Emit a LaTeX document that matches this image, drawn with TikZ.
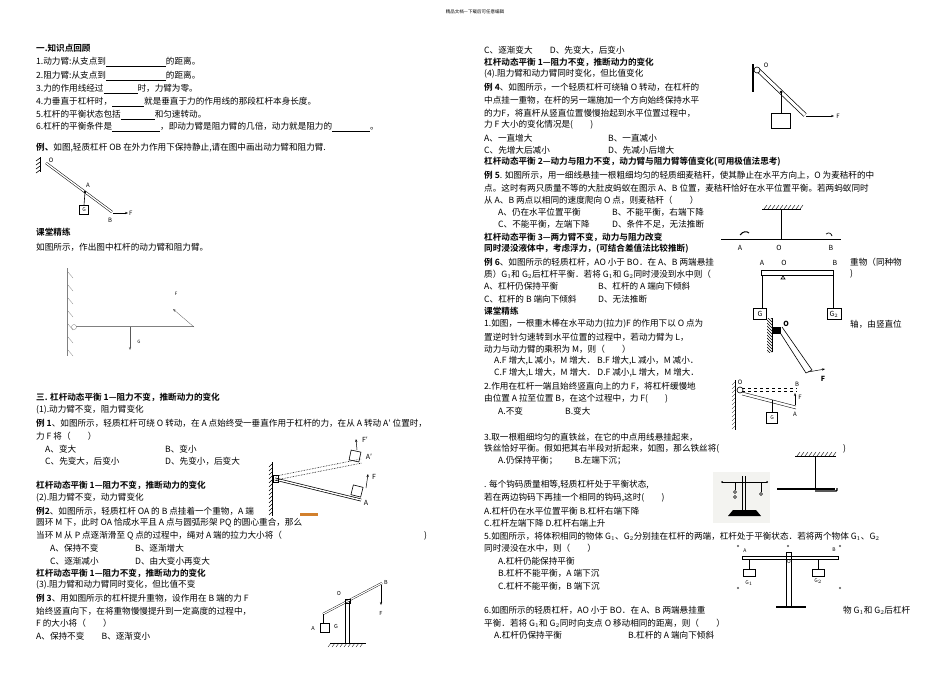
\documentclass[tikz,border=0pt]{standalone}
\usepackage{fontspec}
\setmainfont{Noto Sans CJK SC}[BoldFont={Noto Sans CJK SC Bold}]
\usetikzlibrary{patterns,arrows.meta}
\newcommand\blank[1]{\rule[-1.5pt]{#1pt}{0.4pt}}
\begin{document}
\begin{tikzpicture}[x=1pt,y=-1pt,
 t/.style={anchor=west,inner sep=0pt,font=\fontsize{8.6}{10}\selectfont},
 hd/.style={t,font=\fontsize{8.6}{10}\selectfont\bfseries},
 lb/.style={inner sep=0pt,font=\fontsize{6}{7}\selectfont\itshape},
 rod/.style={double,double distance=1.4pt,line width=0.5pt},
 fig/.style={line width=0.6pt},
 arr/.style={-{Stealth[length=3pt]},line width=0.5pt},
 hatchw/.style={pattern=north east lines}]
\useasboundingbox (0,0) rectangle (950,672);
\node[inner sep=0,font=\fontsize{4.5}{5}\selectfont] (hdr) at (475,12) {精品文档---下载后可任意编辑};
% ---------- left column ----------
\node[hd] (l1) at (36,48) {一.知识点回顾};
\node[t] (l2) at (36,62) {1.动力臂:从支点到\blank{60}的距离。};
\node[t] (l3) at (36,76) {2.阻力臂:从支点到\blank{60}的距离。};
\node[t] (l4) at (36,89) {3.力的作用线经过\blank{34}时，力臂为零。};
\node[t] (l5) at (36,102) {4.力垂直于杠杆时，\blank{32}就是垂直于力的作用线的那段杠杆本身长度。};
\node[t] (l6) at (36,115) {5.杠杆的平衡状态包括\blank{34}和匀速转动。};
\node[t] (l7) at (36,127) {6.杠杆的平衡条件是\blank{48}，即动力臂是阻力臂的几倍，动力就是阻力的\blank{38}。};
\node[t] (l8) at (36,148) {\textbf{例、}如图,轻质杠杆 \textit{OB} 在外力作用下保持静止,请在图中画出动力臂和阻力臂.};
% fig OB
\draw[fig] (40,157)--(40,172);
\foreach \yy in {158,162,166,170} \draw[fig] (40,\yy)--(36,\yy+3);
\draw[rod] (46,163)--(112,212);
\coordinate (fA) at (85,192);
\fill (fA) circle (1.3pt);
\node[draw,minimum size=9pt,inner sep=0,font=\fontsize{5}{6}\selectfont\itshape] (fG) at (84,210) {G};
\draw[fig] (fA)--(fG.north);
\coordinate (fB) at (113,213);
\coordinate (fF) at (128,213);
\draw[arr] (fB)--(fF);
\node[lb,anchor=west] (fFl) at (129,213) {F};
\node[lb] (fAl) at (88,185) {A};
\node[lb] (fBl) at (110,220) {B};
\node[lb] (fOl) at (51,160) {O};
\node[hd] (l9) at (36,232) {课堂精练};
\node[t] (l10) at (36,247) {如图所示，作出图中杠杆的动力臂和阻力臂。};
% fig wall
\draw[line width=0.3pt,gray] (67,268)--(67,356);
\foreach \yy in {272,285,298,311,324,337,350} \draw[line width=0.3pt,gray] (68,\yy)--(73,\yy+6);
\draw[line width=0.3pt,gray,double,double distance=1pt] (76,327)--(194,327);
\draw[line width=0.3pt,gray] (74,327) circle (2.5pt);
\coordinate (wG1) at (130,327); \coordinate (wG2) at (130,350);
\draw[arr,gray!70!black] (wG1)--(wG2);
\node[lb,font=\fontsize{4.5}{5}\selectfont] (wGl) at (139,342) {G};
\coordinate (wF1) at (194,327); \coordinate (wF2) at (173,309);
\draw[arr,gray!70!black,line width=0.3pt] (wF1)--(wF2);
\node[lb,font=\fontsize{4.5}{5}\selectfont] (wFl) at (176,294) {F};
% section 3
\node[hd] (l11) at (36,397) {三. 杠杆动态平衡 1---阻力不变，推断动力的变化};
\node[t] (l12) at (36,410) {(1).动力臂不变，阻力臂变化};
\node[t] (l13) at (36,423) {\textbf{例 1}、如图所示，轻质杠杆可绕 O 转动，在 A 点始终受一垂直作用于杠杆的力，在从 A 转动 A′ 位置时，};
\node[t] (l14) at (36,436) {力 F 将（　　）};
\node[t] (l15) at (45,449) {A、变大};
\node[t] (l16) at (165,449) {B、变小};
\node[t] (l17) at (45,461) {C、先变大，后变小};
\node[t] (l18) at (165,461) {D、先变小，后变大};
% fig ex1
\draw[fig] (272,462)--(272,516);
\foreach \yy in {464,468,...,514} \draw[line width=0.4pt] (272,\yy)--(269,\yy+3);
\draw[rod,line width=0.7pt] (275,479)--(361,500);
\draw[fig] (273,475) rectangle (278,482);
\draw[densely dotted,fig] (276,476)--(361,459);
\draw[densely dotted,fig] (276,480)--(362,463);
\draw[fig,rotate around={-14:(357,491)}] (352,486) rectangle (362,496);
\draw[fig,rotate around={-12:(355,456)}] (350,451) rectangle (360,461);
\coordinate (e1F1) at (366,488); \coordinate (e1F2) at (368,474);
\draw[arr] (e1F1)--(e1F2);
\coordinate (e1G1) at (357,450); \coordinate (e1G2) at (356,439);
\draw[arr] (e1G1)--(e1G2);
\node[lb,font=\fontsize{7}{8}\selectfont] (e1Fl) at (374,477) {F};
\node[lb,font=\fontsize{7}{8}\selectfont] (e1Fpl) at (365,440) {F′};
\node[inner sep=0,font=\fontsize{7}{8}\selectfont] (e1A) at (366,503) {A};
\node[inner sep=0,font=\fontsize{7}{8}\selectfont] (e1Ap) at (369,457) {A′};
\fill[brown!70!orange] (300,513) rectangle (318,516);
\node[hd] (l19) at (36,485) {杠杆动态平衡 1---阻力不变，推断动力的变化};
\node[t] (l20) at (36,498) {(2).阻力臂不变，动力臂变化};
\node[t] (l21) at (36,511) {\textbf{例2}、如图所示，轻质杠杆 OA 的 B 点挂着一个重物，A 端};
\node[t] (l22) at (36,523) {圆环 M 下，此时 OA 恰成水平且 A 点与圆弧形架 PQ 的圆心重合，那么};
\node[t] (l23) at (36,536) {当环 M 从 P 点逐渐滑至 Q 点的过程中，绳对 A 端的拉力大小将（};
\node[t] (l23b) at (424,536) {)};
\node[t] (l24) at (50,548) {A、保持不变};
\node[t] (l25) at (135,548) {B、逐渐增大};
\node[t] (l26) at (50,561) {C、逐渐减小};
\node[t] (l27) at (135,561) {D、由大变小再变大};
\node[hd] (l28) at (36,573) {杠杆动态平衡 1---阻力不变，推断动力的变化};
\node[t] (l29) at (36,585) {(3).阻力臂和动力臂同时变化，但比值不变};
\node[t] (l30) at (36,598) {\textbf{例 3}、用如图所示的杠杆提升重物，设作用在 B 端的力 F};
\node[t] (l31) at (36,611) {始终竖直向下，在将重物慢慢提升到一定高度的过程中，};
\node[t] (l32) at (36,623) {F 的大小将（　　）};
\node[t] (l33) at (36,636) {A、保持不变　　B、逐渐变小};
% fig ex3
\draw[fig] (330,643)--(366,643);
\foreach \xx in {331,335,...,363} \draw[line width=0.3pt] (\xx,643)--(\xx-3,647);
\draw[fig] (345,601)--(345,643); \draw[fig] (349,601)--(349,643);
\draw[line width=0.4pt,double,double distance=1.2pt] (323,614)--(382,583);
\draw[fig] (345,599) rectangle (350,603);
\draw[fig] (323,614)--(323,623);
\node[draw,minimum size=9pt,inner sep=0] (e3G) at (325,628) {};
\coordinate (e3B) at (381,585); \coordinate (e3F) at (381,605);
\draw[arr] (e3B)--(e3F);
\node[inner sep=0,font=\fontsize{5.5}{6}\selectfont] at (339,593) {O};
\node[inner sep=0,font=\fontsize{5.5}{6}\selectfont] at (386,582) {B};
\node[inner sep=0,font=\fontsize{5.5}{6}\selectfont] at (381,613) {F};
\node[inner sep=0,font=\fontsize{5.5}{6}\selectfont] at (313,628) {A};
\node[inner sep=0,font=\fontsize{5.5}{6}\selectfont] at (336,626) {G};
% ---------- right column ----------
\node[t] (r1) at (484,50) {C、逐渐变大　　D、先变大，后变小};
\node[hd] (r2) at (484,62) {杠杆动态平衡 1---阻力不变，推断动力的变化};
\node[t] (r3) at (484,74) {(4).阻力臂和动力臂同时变化，但比值变化};
\node[t] (r4) at (484,87) {\textbf{例 4}、如图所示，一个轻质杠杆可绕轴 O 转动，在杠杆的};
\node[t] (r5) at (484,100) {中点挂一重物，在杆的另一端施加一个方向始终保持水平};
\node[t] (r6) at (484,113) {的力F，将直杆从竖直位置慢慢抬起到水平位置过程中，};
\node[t] (r7) at (484,125) {力 F 大小的变化情况是(　　)};
\node[t] (r8) at (484,138) {A、一直增大};
\node[t] (r9) at (608,138) {B、一直减小};
\node[t] (r10) at (484,150) {C、先增大后减小};
\node[t] (r11) at (608,150) {D、先减小后增大};
% fig ex4
\draw[line width=1.2pt] (753,64)--(753,92);
\draw[rod,line width=0.7pt,double distance=3pt] (758,70)--(805,115);
\draw[fig,fill=white] (757,70) circle (3pt);
\fill (781,92) circle (1.5pt);
\draw[fig] (781,92)--(781,113);
\node[draw,fig,minimum width=19pt,minimum height=15pt,inner sep=0] (e4G) at (781,121) {};
\coordinate (e4B) at (806,116); \coordinate (e4F) at (834,116);
\draw[arr] (e4B)--(e4F);
\node[lb] at (838,116) {F};
\node[lb] at (766,65) {O};
\node[hd] (r12) at (484,162) {杠杆动态平衡 2---动力与阻力不变，动力臂与阻力臂等值变化(可用极值法思考)};
\node[t] (r13) at (484,175) {\textbf{例 5}. 如图所示，用一细线悬挂一根粗细均匀的轻质细麦秸秆，使其静止在水平方向上，O 为麦秸秆的中};
\node[t] (r14) at (484,188) {点。这时有两只质量不等的大肚皮蚂蚁在图示 A、B 位置，麦秸秆恰好在水平位置平衡。若两蚂蚁同时};
\node[t] (r15) at (484,200) {从 A、B 两点以相同的速度爬向 O 点，则麦秸秆（　　）};
\node[t] (r16) at (498,212) {A、仍在水平位置平衡};
\node[t] (r17) at (612,212) {B、不能平衡，右端下降};
\node[t] (r18) at (498,224) {C、不能平衡，左端下降};
\node[t] (r19) at (612,224) {D、条件不足，无法推断};
% fig ex5
\draw[fig] (762,209)--(801,209);
\foreach \xx in {764,768,...,800} \draw[line width=0.4pt] (\xx,209)--(\xx+3,205);
\draw[fig] (781,209)--(781,240);
\draw[line width=0.4pt,double,double distance=1pt] (721,240)--(841,240);
\draw[line width=1pt] (740,235) .. controls (743,231) and (747,231) .. (749,233);
\draw[line width=0.7pt] (826,234) .. controls (829,232) and (831,233) .. (832,236);
\node[lb,font=\fontsize{7}{8}\selectfont\itshape] at (740,248) {A};
\node[lb,font=\fontsize{7}{8}\selectfont\itshape] at (779,248) {O};
\node[lb,font=\fontsize{7}{8}\selectfont\itshape] at (831,248) {B};
\node[hd] (r20) at (484,237) {杠杆动态平衡 3---两力臂不变，动力与阻力改变};
\node[hd] (r21) at (484,249) {同时浸没液体中，考虑浮力，(可结合差值法比较推断)};
\node[t] (r22) at (484,262) {\textbf{例 6}、如图所示的轻质杠杆，AO 小于 BO．在 A、B 两端悬挂};
\node[t] (r22b) at (850,262) {重物（同种物};
\node[t] (r23) at (484,274) {质）G$_1$和 G$_2$后杠杆平衡．若将 G$_1$和 G$_2$同时浸没到水中则（};
\node[t] (r23b) at (850,274) {)};
\node[t] (r24) at (484,286) {A、杠杆仍保持平衡};
\node[t] (r25) at (598,286) {B、杠杆的 A 端向下倾斜};
\node[t] (r26) at (484,299) {C、杠杆的 B 端向下倾斜};
\node[t] (r27) at (598,299) {D、无法推断};
% fig ex6
\draw[fig] (761,270) rectangle (833,275);
\draw[fig] (783,276)--(781,279)--(785,279)--cycle;
\draw[fig] (762,275)--(762,308); \draw[fig] (833,275)--(833,308);
\node[draw,fig,minimum width=13pt,minimum height=11pt,inner sep=0,font=\fontsize{7}{8}\selectfont\itshape] (g1) at (760,314) {G};
\node[draw,fig,minimum width=14pt,minimum height=11pt,inner sep=0,font=\fontsize{7}{8}\selectfont\itshape] (g2) at (834,314) {G$_2$};
\node[lb,font=\fontsize{7}{8}\selectfont\itshape] at (762,263) {A};
\node[lb,font=\fontsize{7}{8}\selectfont\itshape] at (784,263) {O};
\node[lb,font=\fontsize{7}{8}\selectfont\itshape] at (835,263) {B};
\node[hd] (r28) at (484,311) {课堂精练};
\node[t] (r29) at (484,324) {1.如图，一根重木棒在水平动力(拉力)F 的作用下以 O 点为};
\node[t] (r29b) at (850,324) {轴，由竖直位};
\node[t] (r30) at (484,337) {置逆时针匀速转到水平位置的过程中，若动力臂为 L，};
\node[t] (r31) at (484,349) {动力与动力臂的乘积为 M，则（　　）};
\node[t] (r32) at (494,361) {A.F 增大,L 减小，M 增大． B.F 增大,L 减小，M 减小．};
\node[t] (r33) at (494,373) {C.F 增大,L 增大，M 增大． D.F 减小,L 增大，M 增大．};
% fig p1
\fill[pattern=north west lines] (767,318) rectangle (772,352);
\draw[line width=1pt] (772,318)--(772,352);
\fill (773,327) rectangle (781,334);
\draw[fig] (779,331)--(806,373)--(812,370)--(782,327);
\coordinate (p1a) at (808,372); \coordinate (p1b) at (825,369);
\draw[arr] (p1a)--(p1b);
\node[lb,font=\fontsize{7}{8}\selectfont\bfseries\itshape] at (786,324) {O};
\node[lb,font=\fontsize{7}{8}\selectfont\bfseries\itshape] at (823,379) {F};
\node[t] (r34) at (484,386) {2.作用在杠杆一端且始终竖直向上的力 F，将杠杆缓慢地};
\node[t] (r35) at (484,399) {由位置 A 拉至位置 B，在这个过程中，力 F(　　)};
\node[t] (r36) at (498,411) {A.不变};
\node[t] (r37) at (565,411) {B.变大};
% fig p2
\draw[fig] (735,380)--(735,430);
\foreach \yy in {382,386,...,428} \draw[line width=0.3pt] (735,\yy)--(732,\yy+3);
\draw[fig] (740,390) circle (3pt);
\draw[dashed,line width=0.4pt] (742,388)--(797,388);
\draw[dashed,line width=0.4pt] (742,391)--(797,391);
\draw[line width=0.4pt] (742,392)--(796,406); \draw[line width=0.4pt] (742,395)--(796,409);
\coordinate (p2a) at (795,405); \coordinate (p2b) at (795,393);
\draw[arr] (p2a)--(p2b);
\draw[fig] (772,400)--(772,412);
\node[draw,fig,minimum size=11pt,inner sep=0,font=\fontsize{5}{6}\selectfont\itshape] (p2G) at (772,418) {G};
\node[lb] at (740,382) {O};
\node[lb] at (797,384) {B};
\node[lb] at (800,397) {F};
\node[lb] at (795,414) {A};
\node[t] (r38) at (484,437) {3.取一根粗细均匀的直铁丝，在它的中点用线悬挂起来，};
\node[t] (r39) at (484,449) {铁丝恰好平衡。假如把其右半段对折起来，如图，那么铁丝将(};
\node[t] (r39b) at (843,449) {)};
\node[t] (r40) at (498,461) {A.仍保持平衡；　　B.左端下沉；};
% fig p3
\draw[fig] (795,456)--(836,456);
\foreach \xx in {797,801,...,835} \draw[line width=0.4pt] (\xx,456)--(\xx+3,452);
\draw[line width=0.8pt] (815,456)--(815,489);
\draw[line width=1.4pt] (777,489)--(835,489);
\draw[line width=1.4pt,rounded corners=1pt] (815,491)--(837,491)--(837,488);
% fig p4 photo
\fill[yellow!8!gray!12] (713,472) rectangle (770,523);
\draw[fig] (742,476)--(742,514); \draw[fig] (745,476)--(745,514);
\draw[fig] (722,482)--(767,482);
\foreach \xx in {722,767} \fill (\xx,482) circle (1pt);
\draw[line width=0.4pt] (735,482)--(735,490); \draw (735,492) circle (1.5pt); \draw (735,497) circle (1.5pt);
\draw[line width=0.4pt] (761,482)--(761,492); \draw (761,494) circle (1.5pt);
\fill (733,510)--(756,510)--(761,516)--(728,516)--cycle;
\node[t] (r41) at (484,485) {. 每个钩码质量相等,轻质杠杆处于平衡状态,};
\node[t] (r42) at (484,498) {若在两边钩码下再挂一个相同的钩码,这时(　　)};
\node[t] (r43) at (484,511) {A.杠杆仍在水平位置平衡 B.杠杆右端下降};
\node[t] (r44) at (484,523) {C.杠杆左端下降 D.杠杆右端上升};
\node[t] (r45) at (484,536) {5.如图所示，将体积相同的物体 G$_1$、G$_2$分别挂在杠杆的两端，杠杆处于平衡状态．若将两个物体 G$_1$、G$_2$};
\node[t] (r46) at (484,548) {同时浸没在水中，则（　　）};
\node[t] (r47) at (498,561) {A.杠杆仍能保持平衡};
\node[t] (r48) at (498,573) {B.杠杆不能平衡，A 端下沉};
\node[t] (r49) at (498,586) {C.杠杆不能平衡，B 端下沉};
% fig p5
\draw[line width=0.4pt] (742,556) rectangle (838,559);
\draw[line width=0.4pt] (786,552) rectangle (791,607);
\draw[line width=2pt] (776,607)--(806,607);
\draw[fig] (749,559)--(749,569); \draw[fig] (818,559)--(818,569);
\draw[fig] (743,569) rectangle (755,576);
\draw[fig] (812,569) rectangle (824,576);
\node[inner sep=0,font=\fontsize{5}{6}\selectfont] at (749,583) {G$_1$};
\node[inner sep=0,font=\fontsize{5}{6}\selectfont] at (818,581) {G$_2$};
\node[inner sep=0,font=\fontsize{5}{6}\selectfont] at (745,551) {A};
\node[inner sep=0,font=\fontsize{5}{6}\selectfont] at (834,550) {B};
\node[inner sep=0,font=\fontsize{5}{6}\selectfont] at (789,562) {O};
\foreach \p in {(738,546),(788,546),(840,546),(738,588),(840,588)} \draw[line width=0.3pt] \p circle (1pt);
\node[t] (r50) at (484,610) {6.如图所示的轻质杠杆，AO 小于 BO．在 A、B 两端悬挂重};
\node[t] (r50b) at (843,610) {物 G$_1$和 G$_2$后杠杆};
\node[t] (r51) at (484,623) {平衡．若将 G$_1$和 G$_2$同时向支点 O 移动相同的距离，则（　　）};
\node[t] (r52) at (494,635) {A.杠杆仍保持平衡};
\node[t] (r53) at (628,635) {B.杠杆的 A 端向下倾斜};
\end{tikzpicture}
\end{document}
